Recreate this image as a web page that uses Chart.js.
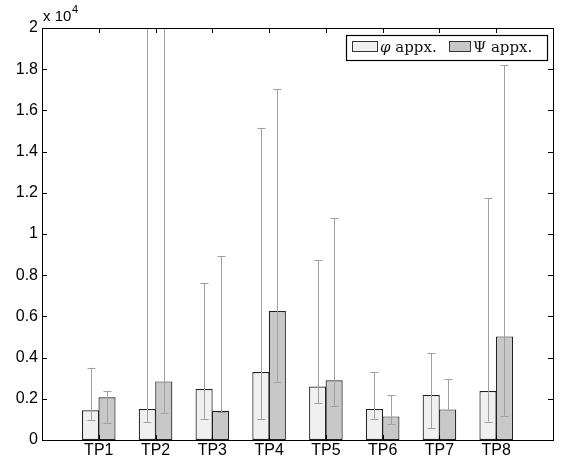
<!DOCTYPE html>
<html>
<head>
<meta charset="utf-8">
<script src="https://cdn.jsdelivr.net/npm/chart.js@4.4.1/dist/chart.umd.min.js"></script>
<style>
  html, body { margin: 0; padding: 0; background: #fff; }
  #wrap { width: 563px; height: 463px; position: relative; }
</style>
</head>
<body>
<div id="wrap"><canvas id="chart"></canvas></div>
<script>
// Chart data
const categories = ['TP1', 'TP2', 'TP3', 'TP4', 'TP5', 'TP6', 'TP7', 'TP8'];
const seriesSymbols = ['\u03C6', '\u03A8'];
const seriesLabels = ['\u03C6 appx.', '\u03A8 appx.'];

const phiValues = [1440, 1505, 2475, 3300, 2600, 1505, 2185, 2380];
const phiLower  = [985, 855, 1035, 1020, 1795, 1035, 565, 890];
const phiUpper  = [3510, 26000, 7635, 15160, 8720, 3280, 4225, 11730];

const psiValues = [2070, 2845, 1420, 6260, 2895, 1145, 1485, 5030];
const psiLower  = [825, 1325, 1360, 2830, 1650, 755, 1470, 1180];
const psiUpper  = [2360, 26000, 8930, 17020, 10760, 2185, 2975, 18180];

const yTicks = [0, 2000, 4000, 6000, 8000, 10000, 12000, 14000, 16000, 18000, 20000];

const fillColors = ['#f0f0f0', '#c8c8c8'];
const errorColor = '#a0a0a0';
const sansFamily = '"Liberation Sans", Arial, sans-serif';

function toPoints(values) {
  return values.map((v, i) => ({ x: i + 1, y: v }));
}

// error bars, tick marks, axes box and legend
const matlabLook = {
  id: 'matlabLook',
  afterDatasetsDraw(chart) {
    const ctx = chart.ctx;
    const area = chart.chartArea;
    const xs = chart.scales.x;
    const ys = chart.scales.y;
    const bounds = [[phiLower, phiUpper], [psiLower, psiUpper]];

    ctx.save();
    ctx.beginPath();
    ctx.rect(area.left, area.top, area.right - area.left, area.bottom - area.top);
    ctx.clip();
    ctx.strokeStyle = errorColor;
    ctx.lineWidth = 1;
    chart.data.datasets.forEach((ds, di) => {
      const meta = chart.getDatasetMeta(di);
      meta.data.forEach((bar, i) => {
        const cx = Math.round(bar.x) + 0.5;
        const lo = ys.getPixelForValue(bounds[di][0][i]);
        const hi = ys.getPixelForValue(bounds[di][1][i]);
        ctx.beginPath();
        ctx.moveTo(cx, lo);
        ctx.lineTo(cx, hi);
        ctx.moveTo(cx - 4, Math.round(lo) + 0.5);
        ctx.lineTo(cx + 4, Math.round(lo) + 0.5);
        ctx.moveTo(cx - 4, Math.round(hi) + 0.5);
        ctx.lineTo(cx + 4, Math.round(hi) + 0.5);
        ctx.stroke();
      });
    });
    ctx.restore();

    ctx.save();
    ctx.strokeStyle = '#000';
    ctx.lineWidth = 1;
    // y tick marks, inside on both sides
    yTicks.forEach(v => {
      const py = Math.round(ys.getPixelForValue(v)) + 0.5;
      ctx.beginPath();
      ctx.moveTo(area.left, py);
      ctx.lineTo(area.left + 5, py);
      ctx.moveTo(area.right, py);
      ctx.lineTo(area.right - 5, py);
      ctx.stroke();
    });
    // x tick marks, inside on top and bottom
    categories.forEach((c, i) => {
      const px = Math.round(xs.getPixelForValue(i + 1)) + 0.5;
      ctx.beginPath();
      ctx.moveTo(px, area.top);
      ctx.lineTo(px, area.top + 5);
      ctx.moveTo(px, area.bottom);
      ctx.lineTo(px, area.bottom - 5);
      ctx.stroke();
    });
    // axes box
    ctx.strokeRect(Math.round(area.left) + 0.5, Math.round(area.top) + 0.5,
      Math.round(area.right - area.left), Math.round(area.bottom - area.top));

    // exponent label
    ctx.fillStyle = '#000';
    ctx.font = '15px ' + sansFamily;
    ctx.textBaseline = 'alphabetic';
    ctx.textAlign = 'left';
    ctx.fillText('x 10', area.left + 1, 21);
    ctx.font = '11px ' + sansFamily;
    ctx.fillText('4', area.left + 30, 13);

    // legend
    const lx = 346, ly = 35, lw = 201, lh = 25;
    ctx.fillStyle = '#fff';
    ctx.fillRect(lx, ly, lw, lh);
    ctx.lineWidth = 1.2;
    ctx.strokeStyle = '#000';
    ctx.strokeRect(lx + 0.5, ly + 0.5, lw, lh);
    const items = [
      { x: lx + 6, w: 25, italic: true },
      { x: lx + 103, w: 21, italic: false }
    ];
    items.forEach((it, k) => {
      ctx.fillStyle = fillColors[k];
      ctx.fillRect(it.x, ly + 6, it.w, 10);
      ctx.lineWidth = 1;
      ctx.strokeStyle = '#333';
      ctx.strokeRect(it.x + 0.5, ly + 6.5, it.w, 10);
      ctx.fillStyle = '#111';
      const sym = seriesSymbols[k];
      const rest = seriesLabels[k].slice(sym.length);
      ctx.font = (it.italic ? 'italic ' : '') + '15px "DejaVu Serif", "Liberation Serif", serif';
      const tx = it.x + it.w + 3;
      ctx.fillText(sym, tx, ly + 17);
      const sw = ctx.measureText(sym).width;
      ctx.font = '15px "DejaVu Serif", "Liberation Serif", serif';
      ctx.fillText(rest, tx + sw, ly + 17);
    });
    ctx.restore();
  }
};

new Chart(document.getElementById('chart'), {
  type: 'bar',
  data: {
    datasets: [
      {
        label: seriesLabels[0],
        data: toPoints(phiValues),
        backgroundColor: fillColors[0],
        borderColor: '#222',
        borderWidth: 1.2,
        borderSkipped: false
      },
      {
        label: seriesLabels[1],
        data: toPoints(psiValues),
        backgroundColor: fillColors[1],
        borderColor: '#222',
        borderWidth: 1.2,
        borderSkipped: false
      }
    ]
  },
  options: {
    responsive: true,
    maintainAspectRatio: false,
    animation: false,
    devicePixelRatio: 1,
    layout: { padding: { top: 28, right: 10, left: 0, bottom: 0 } },
    datasets: {
      bar: { barPercentage: 1.04, categoryPercentage: 0.58 }
    },
    plugins: {
      legend: { display: false },
      tooltip: { enabled: false }
    },
    scales: {
      x: {
        type: 'linear',
        min: 0,
        max: 9,
        offset: false,
        afterBuildTicks: scale => {
          scale.ticks = categories.map((c, i) => ({ value: i + 1 }));
        },
        afterFit: scale => { scale.height = 23; },
        grid: { display: false, drawTicks: false, offset: false },
        border: { display: false },
        ticks: {
          color: '#000',
          font: { family: sansFamily, size: 16 },
          padding: 1,
          maxRotation: 0,
          autoSkip: false,
          callback: value => categories[value - 1] || ''
        }
      },
      y: {
        min: 0,
        max: 20000,
        afterBuildTicks: scale => {
          scale.ticks = yTicks.map(v => ({ value: v }));
        },
        afterFit: scale => { scale.width = 42; },
        grid: { display: false, drawTicks: false },
        border: { display: false },
        ticks: {
          color: '#000',
          font: { family: sansFamily, size: 16 },
          padding: 4,
          callback: value => String(+(value / 10000).toFixed(1))
        }
      }
    }
  },
  plugins: [matlabLook]
});
</script>
</body>
</html>
